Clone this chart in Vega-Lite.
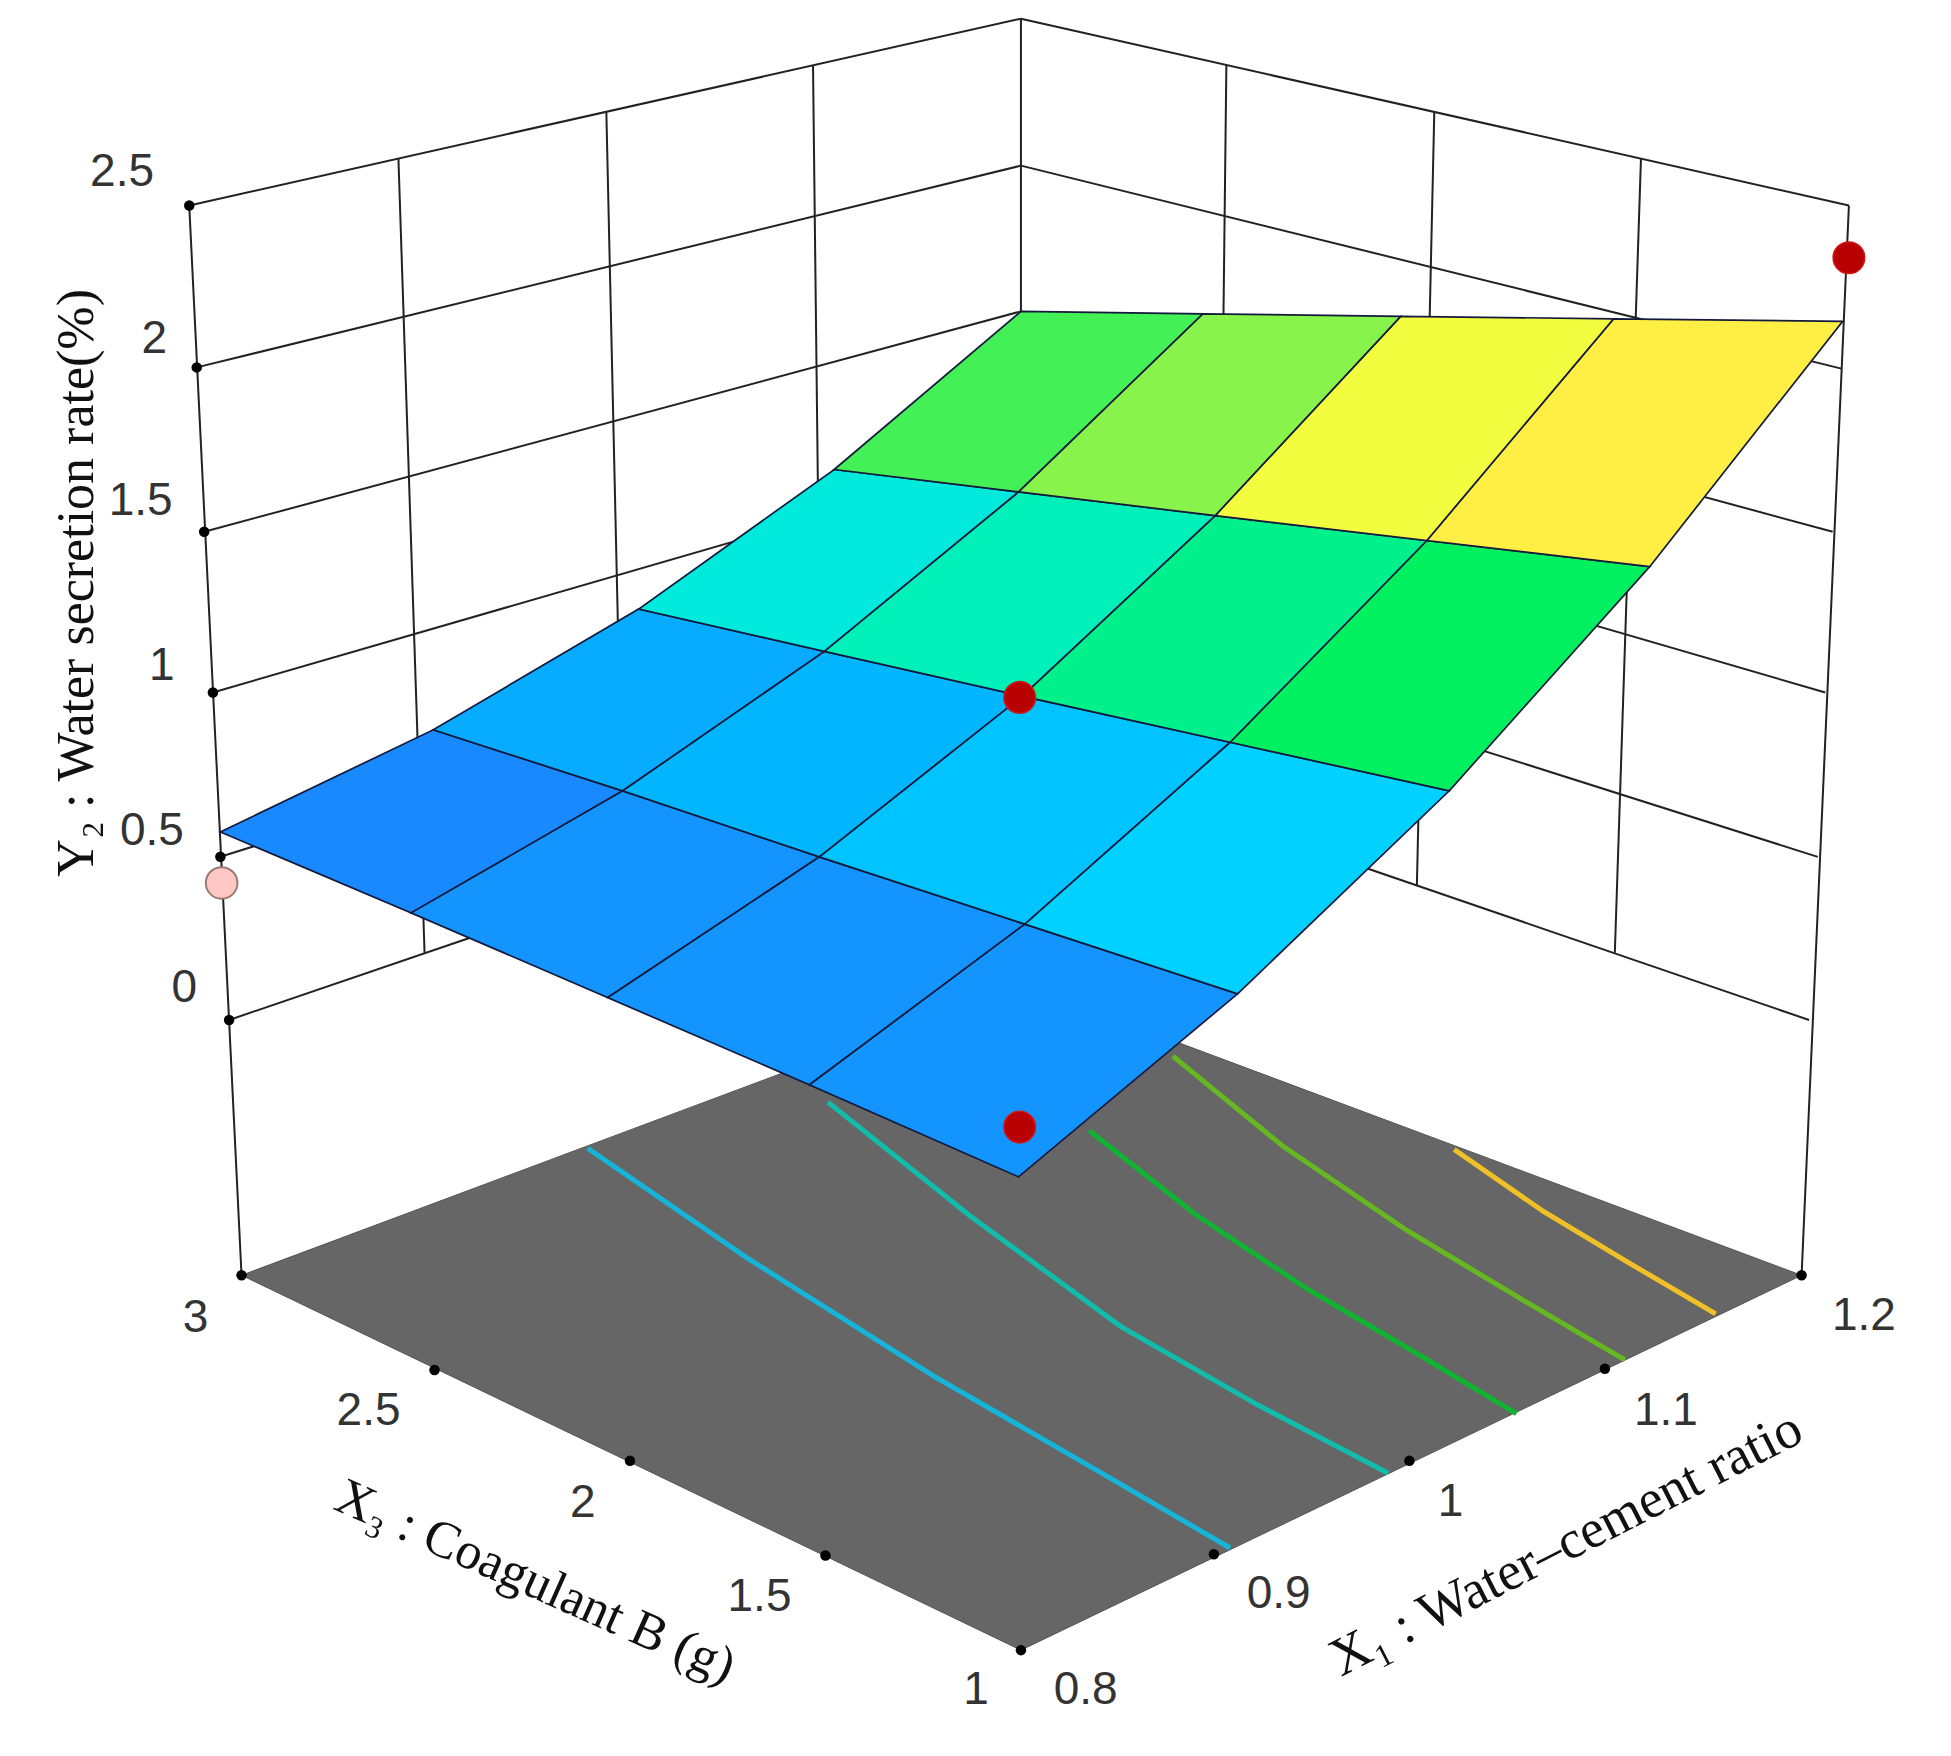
{"$schema":"https://vega.github.io/schema/vega-lite/v6.json","width":1951,"height":1756,"autosize":{"type":"fit","contains":"padding"},"padding":0,"background":"white","view":{"stroke":null},
"encoding":{"x":{"field":"u","type":"quantitative","scale":{"domain":[0,1567],"nice":false,"zero":false},"axis":null},"y":{"field":"v","type":"quantitative","scale":{"domain":[1410,0],"nice":false,"zero":false},"axis":null}},
"layer":[
{"data":{"values":[
{"u":152,"v":165,"u2":820,"v2":15},{"u":158,"v":295,"u2":820,"v2":133},{"u":164,"v":427,"u2":820,"v2":250},{"u":171,"v":556,"u2":820,"v2":368},{"u":177,"v":688,"u2":820,"v2":485},{"u":184,"v":819,"u2":820,"v2":602},
{"u":1485,"v":165,"u2":820,"v2":15},{"u":1479,"v":296,"u2":820,"v2":133},{"u":1472,"v":427,"u2":820,"v2":250},{"u":1466,"v":556,"u2":820,"v2":368},{"u":1460,"v":688,"u2":820,"v2":485},{"u":1453,"v":819,"u2":820,"v2":602},
{"u":152,"v":165,"u2":194,"v2":1024},{"u":1485,"v":165,"u2":1447,"v2":1024},{"u":820,"v":15,"u2":820,"v2":790},
{"u":320,"v":127,"u2":341,"v2":765},{"u":487,"v":90,"u2":501,"v2":711},{"u":653,"v":53,"u2":660,"v2":657},
{"u":985,"v":52,"u2":978,"v2":656},{"u":1152,"v":90,"u2":1138,"v2":711},{"u":1318,"v":127,"u2":1297,"v2":765}]},
"mark":{"type":"rule","stroke":"#222","strokeWidth":2},"encoding":{"x2":{"field":"u2"},"y2":{"field":"v2"}}},
{"data":{"values":[{"u":194,"v":1024},{"u":820,"v":1325},{"u":1447,"v":1024},{"u":820,"v":790}]},
"mark":{"type":"line","interpolate":"linear-closed","fill":"#666666","stroke":"#555","strokeWidth":1},"encoding":{"order":{"value":null}}},
{"data":{"values":[
{"c":"a","u":472,"v":922},{"c":"a","u":600,"v":1010},{"c":"a","u":750,"v":1105},{"c":"a","u":880,"v":1180},{"c":"a","u":988,"v":1243},
{"c":"b","u":665,"v":885},{"c":"b","u":780,"v":977},{"c":"b","u":900,"v":1065},{"c":"b","u":1010,"v":1128},{"c":"b","u":1115,"v":1183},
{"c":"c","u":875,"v":908},{"c":"c","u":960,"v":975},{"c":"c","u":1050,"v":1035},{"c":"c","u":1140,"v":1088},{"c":"c","u":1218,"v":1135},
{"c":"d","u":942,"v":848},{"c":"d","u":1030,"v":920},{"c":"d","u":1130,"v":988},{"c":"d","u":1220,"v":1042},{"c":"d","u":1305,"v":1092},
{"c":"e","u":1168,"v":923},{"c":"e","u":1240,"v":973},{"c":"e","u":1310,"v":1015},{"c":"e","u":1378,"v":1055}]},
"mark":{"type":"line","strokeWidth":5},"encoding":{"detail":{"field":"c"},"order":{"value":null},"color":{"field":"c","type":"nominal","legend":null,"scale":{"domain":["a","b","c","d","e"],"range":["#16b4d8","#12bcaa","#10b432","#66b822","#f0c028"]}}}},
{"data":{"values":[{"u":152,"v":165},{"u":158,"v":295},{"u":164,"v":427},{"u":171,"v":556},{"u":177,"v":688},{"u":184,"v":819},{"u":194,"v":1024},{"u":349,"v":1100},{"u":506,"v":1173},{"u":663,"v":1249},{"u":820,"v":1325},{"u":975,"v":1248},{"u":1132,"v":1173},{"u":1289,"v":1099},{"u":1447,"v":1024}]},
"mark":{"type":"point","shape":"circle","filled":true,"color":"#000","opacity":1,"size":110}},
{"data":{"values":[
{"c":1,"z":0.6,"u":[818,994,823,650],"v":[945,798,742,871]},{"c":2,"z":0.85,"u":[994,1164,988,823],"v":[798,635,596,742]},{"c":3,"z":1.3,"u":[1164,1325,1146,988],"v":[635,455,434,596]},{"c":4,"z":1.8,"u":[1325,1480,1296,1146],"v":[455,258,256,434]},
{"c":5,"z":0.6,"u":[650,823,658,488],"v":[871,742,688,801]},{"c":6,"z":0.8,"u":[823,988,821,658],"v":[742,596,559,688]},{"c":7,"z":1.2,"u":[988,1146,976,821],"v":[596,434,414,559]},{"c":8,"z":1.7,"u":[1146,1296,1125,976],"v":[434,256,254,414]},
{"c":9,"z":0.6,"u":[488,658,500,330],"v":[801,688,635,733]},{"c":10,"z":0.75,"u":[658,821,662,500],"v":[688,559,523,635]},{"c":11,"z":1.1,"u":[821,976,818,662],"v":[559,414,395,523]},{"c":12,"z":1.5,"u":[976,1125,966,818],"v":[414,254,252,395]},
{"c":13,"z":0.55,"u":[330,500,348,177],"v":[733,635,586,668]},{"c":14,"z":0.7,"u":[500,662,513,348],"v":[635,523,489,586]},{"c":15,"z":1.0,"u":[662,818,670,513],"v":[523,395,377,489]},{"c":16,"z":1.4,"u":[818,966,820,670],"v":[395,252,250,377]}]},
"transform":[{"flatten":["u","v"]}],
"mark":{"type":"line","interpolate":"linear-closed","stroke":"#141a3c","strokeWidth":1.7},
"encoding":{"detail":{"field":"c"},"order":{"value":null},"fill":{"field":"z","type":"quantitative","legend":null,"scale":{"interpolate":"rgb","domain":[0.4,0.544,0.76,0.904,1.084,1.3,1.444,1.588,1.732,1.93,2.2],"range":["#4a80ff","#1a88ff","#00b8ff","#00e0ff","#00f0c0","#00f060","#60f050","#c8f840","#ffff40","#ffd050","#ffa050"]}}}},
{"data":{"values":[{"u":1485,"v":207},{"u":819,"v":560},{"u":819,"v":905}]},"mark":{"type":"point","shape":"circle","filled":true,"color":"#b80000","opacity":1,"size":1000,"stroke":"#d01818","strokeWidth":1.5}},
{"data":{"values":[{"u":178,"v":709}]},"mark":{"type":"point","shape":"circle","filled":true,"color":"#ffc8c4","opacity":1,"size":1000,"stroke":"#9a7a76","strokeWidth":2}},
{"data":{"values":[
{"t":"2.5","u":98,"v":138},{"t":"2","u":124,"v":272},{"t":"1.5","u":113,"v":402},{"t":"1","u":130,"v":535},{"t":"0.5","u":122,"v":667},{"t":"0","u":148,"v":793},
{"t":"3","u":157,"v":1058},{"t":"2.5","u":296,"v":1133},{"t":"2","u":468,"v":1207},{"t":"1.5","u":610,"v":1282},{"t":"1","u":784,"v":1357},
{"t":"0.8","u":872,"v":1357},{"t":"0.9","u":1027,"v":1280},{"t":"1","u":1165,"v":1206},{"t":"1.1","u":1338,"v":1133},{"t":"1.2","u":1497,"v":1057}]},
"mark":{"type":"text","font":"Liberation Sans","fontSize":46,"color":"#333","align":"center","baseline":"middle"},"encoding":{"text":{"field":"t"}}},
{"data":{"values":[{"t":"Y₂ : Water secretion rate(%)","u":62,"v":468}]},"mark":{"type":"text","font":"Liberation Serif","fontSize":52,"color":"#111","angle":270,"align":"center","baseline":"middle"},"encoding":{"text":{"field":"t"}}},
{"data":{"values":[{"t":"X₃ : Coagulant B (g)","u":430,"v":1270}]},"mark":{"type":"text","font":"Liberation Serif","fontSize":52,"color":"#111","angle":24,"align":"center","baseline":"middle"},"encoding":{"text":{"field":"t"}}},
{"data":{"values":[{"t":"X₁ :  Water–cement ratio","u":1258,"v":1240}]},"mark":{"type":"text","font":"Liberation Serif","fontSize":54,"color":"#111","angle":333,"align":"center","baseline":"middle"},"encoding":{"text":{"field":"t"}}}
]}
